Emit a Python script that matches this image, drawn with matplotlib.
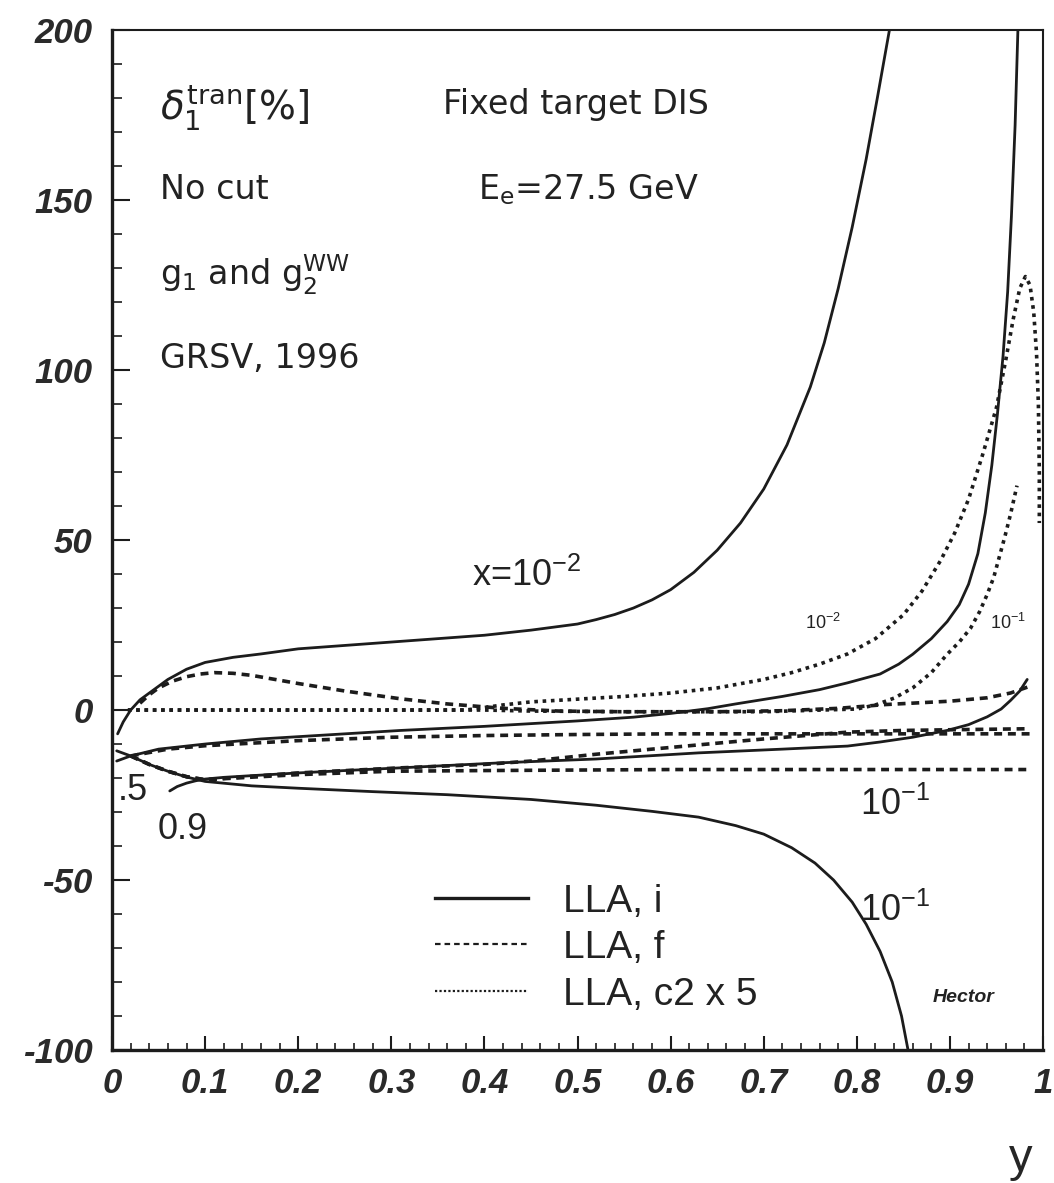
import matplotlib
matplotlib.use("Agg")
import matplotlib.pyplot as plt
from matplotlib.lines import Line2D
from matplotlib.ticker import MultipleLocator

# --- values (x = y_Bjorken axis, delta in %) ---
x_ticks = [0, 0.1, 0.2, 0.3, 0.4, 0.5, 0.6, 0.7, 0.8, 0.9, 1.0]
x_tick_labels = ['0', '0.1', '0.2', '0.3', '0.4', '0.5', '0.6', '0.7', '0.8', '0.9', '1']
y_ticks = [-100, -50, 0, 50, 100, 150, 200]
y_tick_labels = ['-100', '-50', '0', '50', '100', '150', '200']

# LLA, i (solid)
i_up_x = [0.006, 0.012, 0.02, 0.03, 0.04, 0.06, 0.08, 0.1, 0.13, 0.16, 0.2, 0.25,
          0.3, 0.35, 0.4, 0.45, 0.5, 0.52, 0.54, 0.56, 0.58, 0.6, 0.625, 0.65,
          0.675, 0.7, 0.725, 0.75, 0.765, 0.78, 0.795, 0.81, 0.822, 0.835]
i_up_y = [-7, -3.5, 0, 3, 5, 9, 12, 14, 15.5, 16.5, 18, 19, 20, 21, 22, 23.5,
          25.3, 26.6, 28.1, 30, 32.4, 35.4, 40.5, 47, 55, 65, 78, 95, 108, 124,
          142, 162, 180, 200]

i_mid_x = [0.005, 0.02, 0.05, 0.1, 0.16, 0.25, 0.31, 0.4, 0.5, 0.56, 0.6, 0.64,
           0.67, 0.72, 0.76, 0.79, 0.825, 0.845, 0.86, 0.88, 0.897, 0.91, 0.92,
           0.93, 0.938, 0.945, 0.951, 0.957, 0.962, 0.966, 0.97, 0.973]
i_mid_y = [-15, -13.5, -11.5, -10, -8.5, -7, -6, -4.8, -3.2, -2.1, -1.0, 0.4,
           1.8, 4, 6, 8, 10.6, 13.5, 16.4, 21, 26, 31, 37, 46, 58, 72, 87, 104,
           123, 145, 172, 200]

i_down_x = [0.005, 0.02, 0.04, 0.06, 0.08, 0.1, 0.15, 0.2, 0.28, 0.36, 0.45,
            0.52, 0.58, 0.63, 0.67, 0.7, 0.73, 0.755, 0.775, 0.795, 0.81, 0.825,
            0.838, 0.848, 0.855]
i_down_y = [-12, -13.5, -16, -18, -19.7, -21, -22.3, -23, -24, -24.9, -26.3,
            -28, -29.8, -31.5, -34, -36.5, -40.5, -45, -50, -56.5, -63, -71,
            -80, -90, -100]

i_low_x = [0.062, 0.07, 0.08, 0.09, 0.1, 0.12, 0.15, 0.2, 0.25, 0.31, 0.42,
           0.52, 0.63, 0.72, 0.79, 0.825, 0.86, 0.897, 0.92, 0.94, 0.955, 0.965,
           0.975, 0.983]
i_low_y = [-23.8, -22.5, -21.5, -20.8, -20.3, -19.8, -19.3, -18.5, -17.8, -17,
           -15.5, -14.4, -12.6, -11.5, -10.6, -9.4, -8, -6, -4.3, -2, 0.3, 2.8,
           5.6, 9]

# LLA, f (dashed)
f_a_x = [0.03, 0.04, 0.05, 0.065, 0.08, 0.095, 0.11, 0.13, 0.15, 0.175, 0.2,
         0.25, 0.31, 0.36, 0.42, 0.48, 0.55, 0.65, 0.72, 0.78, 0.83, 0.9, 0.94,
         0.965, 0.986]
f_a_y = [2, 4.5, 6.5, 8.5, 9.8, 10.6, 11, 10.8, 10.2, 9, 7.8, 5.6, 3.3, 1.8,
         0.5, -0.3, -0.5, -0.5, -0.2, 0.5, 1.6, 2.6, 3.6, 5, 7]

f_b_x = [0.02, 0.06, 0.1, 0.2, 0.3, 0.4, 0.5, 0.6, 0.8, 0.986]
f_b_y = [-13.5, -11.5, -10.5, -9, -8, -7.5, -7.2, -7, -7, -7]

f_c_x = [0.02, 0.04, 0.06, 0.08, 0.1, 0.15, 0.2, 0.31, 0.4, 0.45, 0.52, 0.6,
         0.7, 0.79, 0.85, 0.9, 0.986]
f_c_y = [-13.5, -16, -18, -19.6, -20.5, -19.5, -18.5, -17, -16, -15, -13, -11,
         -8.5, -6.5, -6, -5.8, -5.5]

f_d_x = [0.02, 0.04, 0.06, 0.08, 0.1, 0.2, 0.3, 0.4, 0.6, 0.8, 0.986]
f_d_y = [-13.5, -16, -18, -19.6, -20.5, -19, -18, -17.8, -17.5, -17.5, -17.5]

# LLA, c2 x 5 (dotted)
c_a_x = [0.017, 0.1, 0.2, 0.3, 0.38, 0.42, 0.45, 0.5, 0.55, 0.6, 0.65, 0.7,
         0.73, 0.76, 0.79, 0.82, 0.85, 0.87, 0.89, 0.905, 0.92, 0.935, 0.95,
         0.96, 0.968, 0.975, 0.981, 0.986, 0.99, 0.993, 0.995, 0.996, 0.996]
c_a_y = [0, 0, 0, 0, 0, 1.5, 2.4, 3.2, 4, 5, 6.5, 9, 11, 13.5, 16.5, 21, 28,
         35, 44, 52, 62, 75, 89, 103, 115, 124, 127.5, 125, 117, 105, 90, 70, 55]

c_b_x = [0.017, 0.2, 0.4, 0.45, 0.55, 0.7, 0.8, 0.82, 0.84, 0.86, 0.88, 0.897,
         0.91, 0.922, 0.932, 0.94, 0.947, 0.952, 0.959, 0.965, 0.972]
c_b_y = [0, 0, 0, -0.3, -0.5, -0.5, 0.3, 1.5, 3.5, 6.5, 11, 16.4, 20, 24, 29,
         34, 39, 44, 51, 57.5, 66]

legend_labels = ['LLA, i', 'LLA, f', 'LLA, c2 x 5']

INK = '#1c1c1c'
DASH = (0, (2.2, 1.6))
DOT = (0, (1.0, 1.3))

fig = plt.figure(figsize=(10.54, 11.83), dpi=100)
ax = fig.add_axes([0.1063, 0.1124, 0.8833, 0.8622])

for xs, ys in [(i_up_x, i_up_y), (i_mid_x, i_mid_y), (i_down_x, i_down_y), (i_low_x, i_low_y)]:
    ax.plot(xs, ys, color=INK, lw=2.0, solid_capstyle='round', solid_joinstyle='round')
for xs, ys in [(f_a_x, f_a_y), (f_b_x, f_b_y), (f_c_x, f_c_y), (f_d_x, f_d_y)]:
    ax.plot(xs, ys, color=INK, lw=2.6, linestyle=DASH, dash_capstyle='butt')
for xs, ys in [(c_a_x, c_a_y), (c_b_x, c_b_y)]:
    ax.plot(xs, ys, color=INK, lw=2.6, linestyle=DOT, dash_capstyle='butt')

ax.set_xlim(0, 1)
ax.set_ylim(-100, 200)
ax.set_xticks(x_ticks)
ax.set_xticklabels(x_tick_labels)
ax.set_yticks(y_ticks)
ax.set_yticklabels(y_tick_labels)
ax.xaxis.set_minor_locator(MultipleLocator(0.02))
ax.yaxis.set_minor_locator(MultipleLocator(10))
ax.tick_params(which='both', direction='in', top=False, right=False, color=INK)
ax.tick_params(axis='y', which='major', length=13, width=1.5, pad=14)
ax.tick_params(axis='y', which='minor', length=7, width=1.2)
ax.tick_params(axis='x', which='major', length=10, width=1.5, pad=12)
ax.tick_params(axis='x', which='minor', length=5, width=1.2)
for lab in ax.get_xticklabels() + ax.get_yticklabels():
    lab.set_fontfamily('Liberation Sans')
    lab.set_fontweight('bold')
    lab.set_fontstyle('italic')
    lab.set_fontsize(25)
    lab.set_color('#2a2a2a')
for side in ['left', 'bottom']:
    ax.spines[side].set_linewidth(2.4)
for side in ['top', 'right']:
    ax.spines[side].set_linewidth(1.5)
for sp in ax.spines.values():
    sp.set_color(INK)

txt = dict(color='#222222', fontfamily='DejaVu Sans', va='center', ha='left')
ax.text(0.052, 177, r'$\delta_1^{\rm tran}$[%]', fontsize=28, **txt)
ax.text(0.356, 178, 'Fixed target DIS', fontsize=24, **txt)
ax.text(0.052, 153, 'No cut', fontsize=24, **txt)
ax.text(0.393, 153, r'$\mathregular{E_e}$=27.5 GeV', fontsize=24, **txt)
ax.text(0.052, 128, r'$\mathregular{g_1}$ and $\mathregular{g_2^{WW}}$', fontsize=24, **txt)
ax.text(0.052, 103.4, 'GRSV, 1996', fontsize=24, **txt)

lab = dict(color='#222222', fontfamily='Liberation Sans', va='center', ha='left')
ax.text(0.387, 39.4, r'x=$\mathregular{10^{-2}}$', fontsize=26, **lab)
ax.text(0.744, 25.5, r'$\mathregular{10^{-2}}$', fontsize=13, **lab)
ax.text(0.943, 25.5, r'$\mathregular{10^{-1}}$', fontsize=13, **lab)
ax.text(0.803, -28, r'$\mathregular{10^{-1}}$', fontsize=26, **lab)
ax.text(0.803, -59, r'$\mathregular{10^{-1}}$', fontsize=26, **lab)
ax.text(0.006, -23.8, '.5', fontsize=26, **lab)
ax.text(0.049, -35, '0.9', fontsize=26, **lab)
ax.text(0.881, -84.6, 'Hector', fontsize=14, fontweight='bold', fontstyle='italic', **lab)

handles = [Line2D([], [], color=INK, lw=2.4),
           Line2D([], [], color=INK, lw=1.6, linestyle=(0, (2.5, 1.8))),
           Line2D([], [], color=INK, lw=1.6, linestyle=(0, (1.0, 1.0)))]
leg = ax.legend(handles, legend_labels, loc='center left', bbox_to_anchor=(0.347, 0.100),
                frameon=False, borderpad=0, borderaxespad=0, handlelength=2.4,
                handletextpad=0.9, labelspacing=0.27,
                prop={'family': 'Liberation Sans', 'size': 28})
for t in leg.get_texts():
    t.set_color('#222222')

fig.text(0.968, 0.02, 'y', fontsize=34, fontfamily='Liberation Sans', color='#262626',
         ha='center', va='center')

fig.savefig('out.png', dpi=100, facecolor='white')
